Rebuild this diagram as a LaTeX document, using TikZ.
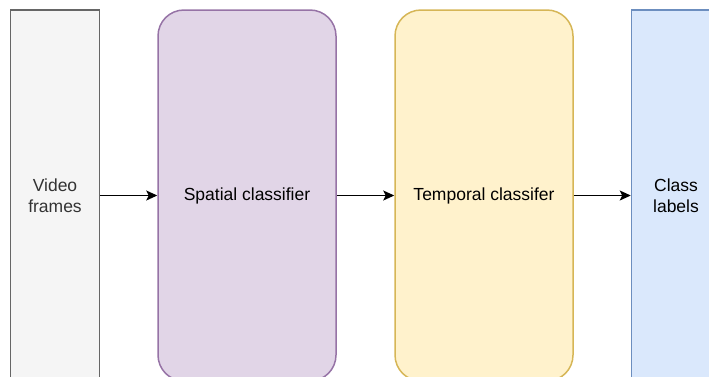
\documentclass[tikz,border=0pt]{standalone}
\usepackage{fontspec}
\setmainfont{Liberation Sans}
\usetikzlibrary{arrows.meta}
\definecolor{grayfill}{HTML}{F5F5F5}
\definecolor{graystroke}{HTML}{666666}
\definecolor{graytext}{HTML}{333333}
\definecolor{purplefill}{HTML}{E1D5E7}
\definecolor{purplestroke}{HTML}{9673A6}
\definecolor{yellowfill}{HTML}{FFF2CC}
\definecolor{yellowstroke}{HTML}{D6B656}
\definecolor{bluefill}{HTML}{DAE8FC}
\definecolor{bluestroke}{HTML}{6C8EBF}
\tikzset{
  boxbase/.style={draw, line width=1.5pt, minimum height=371pt, inner sep=0pt, align=center,
    font=\fontsize{17.5pt}{21pt}\selectfont},
  graybox/.style={boxbase, fill=grayfill, draw=graystroke, text=graytext, minimum width=89pt},
  purplebox/.style={boxbase, fill=purplefill, draw=purplestroke, minimum width=178pt, rounded corners=26pt},
  yellowbox/.style={boxbase, fill=yellowfill, draw=yellowstroke, minimum width=178pt, rounded corners=26pt},
  bluebox/.style={boxbase, fill=bluefill, draw=bluestroke, minimum width=89pt},
  conn/.style={line width=1.5pt, -{Stealth[length=11pt,width=10pt,inset=2.5pt]}}
}
\begin{document}
\begin{tikzpicture}[x=1pt,y=-1pt]
\useasboundingbox (0,0) rectangle (709,376);
\clip (0,0) rectangle (709,376);
\node[graybox] (video) at (55,195.5) {Video\\frames};
\node[purplebox] (spatial) at (247,195.5) {Spatial classifier};
\node[yellowbox] (temporal) at (484,195.5) {Temporal classifer};
\node[bluebox] (labels) at (676,195.5) {Class\\labels};
\draw[conn] (video) -- (spatial);
\draw[conn] (spatial) -- (temporal);
\draw[conn] (temporal) -- (labels);
\end{tikzpicture}
\end{document}
